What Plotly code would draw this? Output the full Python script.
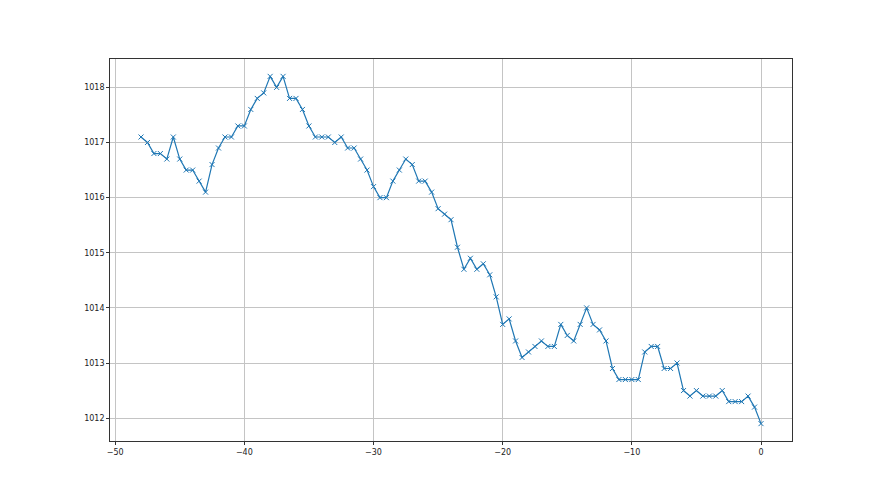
import plotly.graph_objects as go

hours = [-48 + 0.5 * i for i in range(97)]
pressure = [
    1017.1, 1017.0, 1016.8, 1016.8, 1016.7, 1017.1, 1016.7, 1016.5, 1016.5, 1016.3,
    1016.1, 1016.6, 1016.9, 1017.1, 1017.1, 1017.3, 1017.3, 1017.6, 1017.8, 1017.9,
    1018.2, 1018.0, 1018.2, 1017.8, 1017.8, 1017.6, 1017.3, 1017.1, 1017.1, 1017.1,
    1017.0, 1017.1, 1016.9, 1016.9, 1016.7, 1016.5, 1016.2, 1016.0, 1016.0, 1016.3,
    1016.5, 1016.7, 1016.6, 1016.3, 1016.3, 1016.1, 1015.8, 1015.7, 1015.6, 1015.1,
    1014.7, 1014.9, 1014.7, 1014.8, 1014.6, 1014.2, 1013.7, 1013.8, 1013.4, 1013.1,
    1013.2, 1013.3, 1013.4, 1013.3, 1013.3, 1013.7, 1013.5, 1013.4, 1013.7, 1014.0,
    1013.7, 1013.6, 1013.4, 1012.9, 1012.7, 1012.7, 1012.7, 1012.7, 1013.2, 1013.3,
    1013.3, 1012.9, 1012.9, 1013.0, 1012.5, 1012.4, 1012.5, 1012.4, 1012.4, 1012.4,
    1012.5, 1012.3, 1012.3, 1012.3, 1012.4, 1012.2, 1011.9,
]
x_ticks = [-50, -40, -30, -20, -10, 0]
y_ticks = [1012, 1013, 1014, 1015, 1016, 1017, 1018]

color = "#1f77b4"
fig = go.Figure()
fig.add_trace(go.Scatter(
    x=hours, y=pressure, mode="lines+markers",
    line=dict(color=color, width=1.2),
    marker=dict(symbol="x-thin", size=5, color=color, line=dict(color=color, width=1)),
    showlegend=False,
))

xmin, xmax = min(hours), max(hours)
ymin, ymax = min(pressure), max(pressure)
xpad = 0.05 * (xmax - xmin)
ypad = 0.05 * (ymax - ymin)

axis_common = dict(
    showgrid=True, gridcolor="#c4c4c4", gridwidth=0.7,
    showline=True, linecolor="#333333", linewidth=0.8, mirror=True,
    ticks="outside", ticklen=3, tickwidth=0.7, tickcolor="#333333",
    zeroline=False,
    tickfont=dict(family="DejaVu Sans", size=8, color="#222222"),
)

fig.update_layout(
    width=880, height=495,
    margin=dict(l=102, r=96, t=51, b=62),
    paper_bgcolor="white", plot_bgcolor="white",
    xaxis=dict(range=[xmin - xpad, xmax + xpad], tickvals=x_ticks, **axis_common),
    yaxis=dict(range=[ymin - ypad, ymax + ypad], tickvals=y_ticks, **axis_common),
)

fig.write_html("out.html")
